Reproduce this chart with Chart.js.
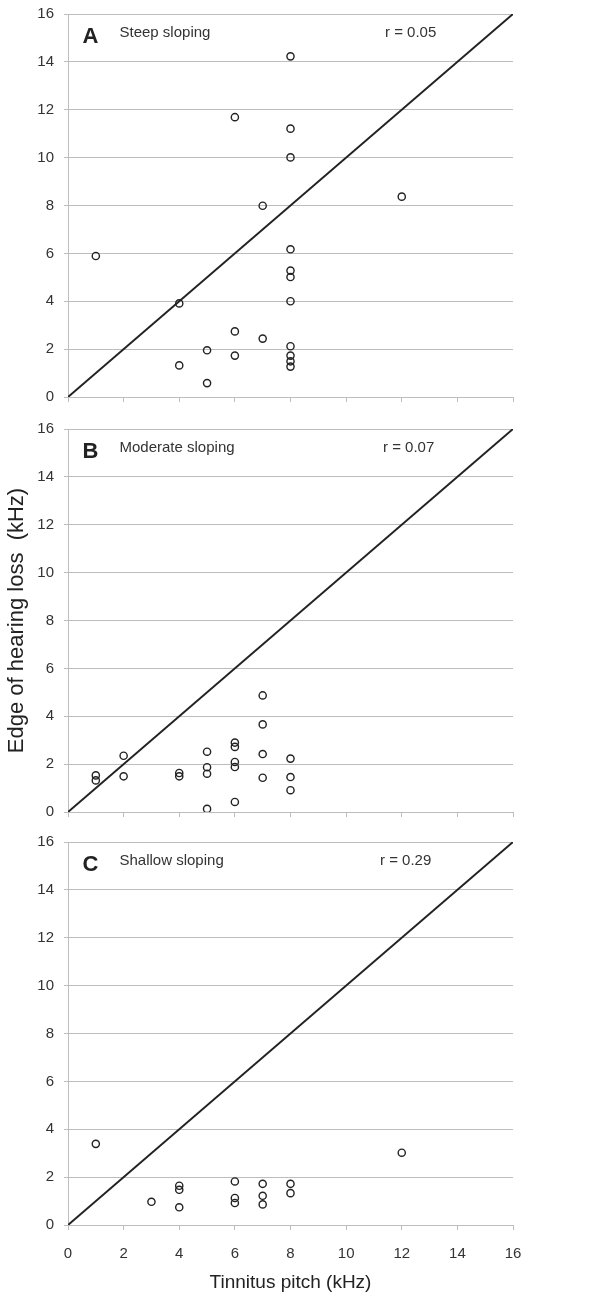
<!DOCTYPE html>
<html>
<head>
<meta charset="utf-8">
<script src="https://cdn.jsdelivr.net/npm/chart.js@4.4.1/dist/chart.umd.min.js"></script>
<style>
  body { margin: 0; background: #fff; }
  .panel { position: absolute; left: 0; width: 597px; }
</style>
</head>
<body>
<div class="panel" style="top:0px"><canvas id="chartA" width="597" height="415"></canvas></div>
<div class="panel" style="top:415px"><canvas id="chartB" width="597" height="415"></canvas></div>
<div class="panel" style="top:830px"><canvas id="chartC" width="597" height="468"></canvas></div>
<script>
// tick values shared by both axes (kHz)
const axisTicks = [0, 2, 4, 6, 8, 10, 12, 14, 16];
const unityLine = [0, 16];

// Panel A - steep sloping
const pitchA = [1, 4, 4, 5, 5, 6, 6, 6, 7, 7, 8, 8, 8, 8, 8, 8, 8, 8, 8, 8, 8, 12];
const edgeA  = [5.89, 3.91, 1.32, 1.95, 0.58, 11.69, 2.74, 1.73, 7.99, 2.44, 14.23, 11.21, 10.01, 6.17, 5.28, 5.01, 4.0, 2.12, 1.73, 1.49, 1.27, 8.37];

// Panel B - moderate sloping
const pitchB = [1, 1, 2, 2, 4, 4, 5, 5, 5, 5, 6, 6, 6, 6, 6, 7, 7, 7, 7, 8, 8, 8];
const edgeB  = [1.53, 1.32, 2.35, 1.49, 1.63, 1.49, 2.52, 1.87, 1.60, 0.13, 2.90, 2.72, 2.09, 1.88, 0.42, 4.87, 3.66, 2.42, 1.43, 2.23, 1.46, 0.91];

// Panel C - shallow sloping
const pitchC = [1, 3, 4, 4, 4, 6, 6, 6, 7, 7, 7, 8, 8, 12];
const edgeC  = [3.39, 0.97, 1.64, 1.47, 0.74, 1.82, 1.13, 0.92, 1.72, 1.22, 0.86, 1.72, 1.33, 3.02];

const FONT = "'Liberation Sans', Arial, sans-serif";
const GRID = '#bdbdbd';
const INK = '#222';

// draws panel letter, subtitle and r value inside the plot area
const panelText = {
    id: 'panelText',
    afterDraw(chart, args, opts) {
        const { ctx, chartArea } = chart;
        ctx.save();
        ctx.fillStyle = INK;
        ctx.textBaseline = 'alphabetic';
        ctx.font = 'bold 22px ' + FONT;
        ctx.fillText(opts.letter, chartArea.left + 14.5, chartArea.top + 29);
        ctx.font = '15px ' + FONT;
        ctx.fillStyle = '#333';
        ctx.fillText(opts.label, chartArea.left + 51.5, chartArea.top + 22.5);
        ctx.fillText(opts.r, chartArea.left + opts.rX, chartArea.top + 22.5);
        ctx.restore();
    }
};

function makePanel(id, pitch, edge, cfg) {
    const pts = pitch.map((p, i) => ({ x: p, y: edge[i] }));
    const line = unityLine.map(v => ({ x: v, y: v }));
    return new Chart(document.getElementById(id), {
        type: 'scatter',
        data: {
            datasets: [{
                data: pts,
                pointRadius: 3.6,
                pointBorderWidth: 1.4,
                pointBorderColor: INK,
                pointBackgroundColor: 'rgba(0,0,0,0)',
                showLine: false
            }, {
                data: line,
                type: 'line',
                borderColor: INK,
                borderWidth: 2,
                pointRadius: 0,
                fill: false
            }]
        },
        options: {
            responsive: false,
            animation: false,
            layout: { padding: { top: cfg.top, right: 84, left: 0, bottom: 0 } },
            plugins: {
                legend: { display: false },
                tooltip: { enabled: false },
                panelText: cfg.text
            },
            scales: {
                x: {
                    type: 'linear',
                    min: 0, max: 16,
                    afterBuildTicks: s => { s.ticks = axisTicks.map(v => ({ value: v })); },
                    grid: { drawOnChartArea: false, drawTicks: true, tickLength: 5, color: GRID },
                    border: { display: true, color: GRID, width: 1 },
                    ticks: {
                        display: cfg.showX,
                        color: '#333',
                        padding: 15,
                        font: { size: 15, family: FONT }
                    },
                    title: {
                        display: cfg.showX,
                        text: 'Tinnitus pitch (kHz)',
                        color: INK,
                        padding: { top: 1 },
                        font: { size: 19, family: FONT }
                    },
                    afterFit: s => { s.height = cfg.xHeight; }
                },
                y: {
                    type: 'linear',
                    min: 0, max: 16,
                    afterBuildTicks: s => { s.ticks = axisTicks.map(v => ({ value: v })); },
                    grid: { color: GRID, lineWidth: 1, tickLength: 4 },
                    border: { display: true, color: GRID, width: 1 },
                    ticks: {
                        color: '#333',
                        padding: 10,
                        font: { size: 15, family: FONT }
                    },
                    title: {
                        display: cfg.showY,
                        text: 'Edge of hearing loss  (kHz)',
                        color: INK,
                        padding: { top: 4, bottom: 0 },
                        font: { size: 22, family: FONT }
                    },
                    // fixed width; label overflow is covered by the layout padding
                    afterFit: s => { s.width = 68; s.paddingTop = 0; s.paddingBottom = 0; }
                }
            }
        },
        plugins: [panelText]
    });
}

makePanel('chartA', pitchA, edgeA, {
    top: 14, xHeight: 18, showX: false, showY: false,
    text: { letter: 'A', label: 'Steep sloping', r: 'r = 0.05', rX: 317 }
});
makePanel('chartB', pitchB, edgeB, {
    top: 14, xHeight: 18, showX: false, showY: true,
    text: { letter: 'B', label: 'Moderate sloping', r: 'r = 0.07', rX: 315 }
});
makePanel('chartC', pitchC, edgeC, {
    top: 12, xHeight: 73, showX: true, showY: false,
    text: { letter: 'C', label: 'Shallow sloping', r: 'r = 0.29', rX: 312 }
});
</script>
</body>
</html>
